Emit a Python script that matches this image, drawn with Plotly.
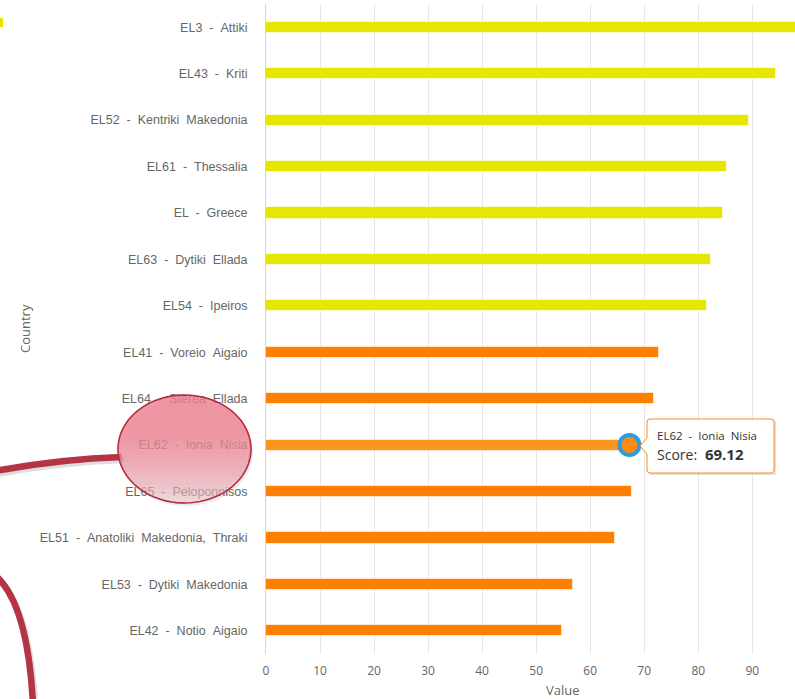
import numpy as np
import plotly.graph_objects as go

# ---------------- data ----------------
categories = [
    "EL3 - Attiki", "EL43 - Kriti", "EL52 - Kentriki Makedonia", "EL61 - Thessalia",
    "EL - Greece", "EL63 - Dytiki Ellada", "EL54 - Ipeiros", "EL41 - Voreio Aigaio",
    "EL64 - Sterea Ellada", "EL62 - Ionia Nisia", "EL65 - Peloponnisos",
    "EL51 - Anatoliki Makedonia, Thraki", "EL53 - Dytiki Makedonia", "EL42 - Notio Aigaio",
]
scores = [99.0, 94.4, 89.4, 85.3, 84.5, 82.3, 81.6, 72.8, 71.9, 69.12, 67.7, 64.6, 56.8, 54.7]
groups = ["high"] * 7 + ["low"] * 7
hovered = "EL62 - Ionia Nisia"
x_ticks = [0, 10, 20, 30, 40, 50, 60, 70, 80, 90]

# ---------------- style ----------------
W, H = 795, 699
ML, MR, MT, MB = 266, 0, 4, 45
PW, PH = W - ML - MR, H - MT - MB
PX_PER_UNIT = 5.403
group_color = {"high": "#e6e600", "low": "#ff8000"}
hover_color = "#ff941c"
colors = [hover_color if c == hovered else group_color[g] for c, g in zip(categories, groups)]
labels = [c.replace(" ", " \u00a0") for c in categories]


def X(px):
    return (px - ML) / PW


def Y(py):
    return (H - MB - py) / PH


def poly_path(pts):
    return " ".join(("M" if k == 0 else "L") + f" {X(a)} {Y(b)}" for k, (a, b) in enumerate(pts)) + " Z"


fig = go.Figure()
fig.add_trace(go.Bar(
    y=categories, x=scores, orientation="h", width=0.24,
    marker=dict(color=colors, line=dict(color="rgba(255,255,255,0.6)", width=1)),
    hoverinfo="skip", showlegend=False,
))

shapes = []
annotations = []

# hover marker at bar end
hv = scores[categories.index(hovered)]
shapes.append(dict(
    type="circle", xref="x", yref="y", xsizemode="pixel", ysizemode="pixel",
    xanchor=hv, yanchor=hovered, x0=-20, x1=0, y0=-10, y1=10,
    line=dict(color="#2e9be0", width=4), fillcolor="#ff8a10", layer="above",
))

# tooltip box
bx0, bx1, by0, by1, r = 647, 774, 419, 473, 3
tip = (640, 446)
path = (f"M {X(bx0+r)} {Y(by0)} L {X(bx1-r)} {Y(by0)} Q {X(bx1)} {Y(by0)} {X(bx1)} {Y(by0+r)} "
        f"L {X(bx1)} {Y(by1-r)} Q {X(bx1)} {Y(by1)} {X(bx1-r)} {Y(by1)} "
        f"L {X(bx0+r)} {Y(by1)} Q {X(bx0)} {Y(by1)} {X(bx0)} {Y(by1-r)} "
        f"L {X(bx0)} {Y(tip[1]+8)} L {X(tip[0])} {Y(tip[1])} L {X(bx0)} {Y(tip[1]-8)} "
        f"L {X(bx0)} {Y(by0+r)} Q {X(bx0)} {Y(by0)} {X(bx0+r)} {Y(by0)} Z")
shadow = (f"M {X(bx0+2)} {Y(by1+1)} L {X(bx1+1)} {Y(by1+1)} L {X(bx1+1)} {Y(by0+2)}")
shapes.append(dict(type="path", xref="paper", yref="paper", path=shadow,
                   line=dict(color="rgba(0,0,0,0.12)", width=2), layer="above"))
shapes.append(dict(type="path", xref="paper", yref="paper", path=path,
                   fillcolor="rgba(255,255,255,0.95)", line=dict(color="#ff8c1a", width=1),
                   layer="above"))
annotations.append(dict(
    x=X(655), y=Y(435), xref="paper", yref="paper", xanchor="left", yanchor="middle",
    text=f"{hovered.replace(' ', ' &nbsp;')}", showarrow=False,
    font=dict(family="Open Sans", size=11.5, color="#333333"),
))
annotations.append(dict(
    x=X(655), y=Y(454), xref="paper", yref="paper", xanchor="left", yanchor="middle",
    text=f"<span style='font-size:14px'>Score:</span>&nbsp; <b>{hv:.2f}</b>", showarrow=False,
    font=dict(family="Open Sans", size=15, color="#333333"),
))

# legend fragment at the top-left edge
shapes.append(dict(type="rect", xref="paper", yref="paper", x0=X(-1), x1=X(3), y0=Y(27), y1=Y(18),
                   fillcolor="#e6e600", line=dict(width=0), layer="above"))

# decorative red callout (curves + gradient ellipse)
curve_col = "rgb(180,52,68)"
for dx, dy, col in [(2, 3, "rgba(0,0,0,0.13)"), (0, 0, curve_col)]:
    shapes.append(dict(type="path", xref="paper", yref="paper", layer="above",
                       path=f"M {X(-5+dx)} {Y(471+dy)} Q {X(60+dx)} {Y(459+dy)} {X(122+dx)} {Y(457+dy)}",
                       line=dict(color=col, width=6.5)))
    shapes.append(dict(type="path", xref="paper", yref="paper", layer="above",
                       path=f"M {X(-4+dx)} {Y(576+dy)} Q {X(28+dx)} {Y(605+dy)} {X(33+dx)} {Y(705+dy)}",
                       line=dict(color=col, width=6.5)))

cx, cy, rx, ry = 184.5, 449, 66.5, 54
t = np.linspace(0, 2 * np.pi, 90)
ell_pts = [(cx + rx * np.cos(a), cy + ry * np.sin(a)) for a in t]
# soft shadow
shapes.append(dict(type="path", xref="paper", yref="paper", layer="above",
                   path=poly_path([(a + 2, b + 3) for a, b in ell_pts]),
                   fillcolor="rgba(0,0,0,0.08)", line=dict(width=0)))
# base fill
shapes.append(dict(type="path", xref="paper", yref="paper", layer="above",
                   path=poly_path(ell_pts), fillcolor="rgba(242,212,217,0.55)", line=dict(width=0)))
# cumulative top-down layers -> vertical gradient without seams
for yb in np.linspace(cy - 0.25 * ry, cy + ry, 16):
    ys = np.linspace(cy - ry, yb, 30)
    hw = rx * np.sqrt(np.clip(1 - ((ys - cy) / ry) ** 2, 0, 1))
    pts = [(cx + w, yy) for w, yy in zip(hw, ys)] + [(cx - w, yy) for w, yy in zip(hw[::-1], ys[::-1])]
    shapes.append(dict(type="path", xref="paper", yref="paper", layer="above",
                       path=poly_path(pts), fillcolor="rgba(228,105,120,0.055)", line=dict(width=0)))
shapes.append(dict(type="path", xref="paper", yref="paper", path=poly_path(ell_pts), layer="above",
                   line=dict(color="rgb(178,45,62)", width=1.6)))

# axis titles
annotations.append(dict(x=X(563), y=Y(690), xref="paper", yref="paper", text="Value",
                        showarrow=False, font=dict(family="Open Sans", size=13, color="#666666"),
                        xanchor="center", yanchor="middle"))
annotations.append(dict(x=X(25), y=Y(329), xref="paper", yref="paper", text="Country",
                        textangle=-90, showarrow=False,
                        font=dict(family="Open Sans", size=13, color="#666666"),
                        xanchor="center", yanchor="middle"))

fig.update_layout(
    width=W, height=H, margin=dict(l=ML, r=MR, t=MT, b=MB, autoexpand=False),
    paper_bgcolor="white", plot_bgcolor="white",
    shapes=shapes, annotations=annotations, showlegend=False,
    bargap=0,
)
fig.update_xaxes(
    range=[0, PW / PX_PER_UNIT], tickvals=x_ticks, ticktext=[str(v) for v in x_ticks],
    showgrid=True, gridcolor="#e6e6e6", gridwidth=1, zeroline=False, showline=False,
    ticks="", tickfont=dict(family="Open Sans", size=12, color="#666666"),
    ticklabelstandoff=8, fixedrange=True,
)
fig.update_yaxes(
    type="category", categoryorder="array", categoryarray=categories,
    autorange="reversed", tickvals=categories, ticktext=labels,
    showgrid=False, zeroline=False, showline=True, linecolor="#ccd6eb", linewidth=1,
    ticks="", ticklabelstandoff=15,
    tickfont=dict(family="Liberation Sans", size=12.5, color="#666666"), fixedrange=True,
)

fig.write_html(
    "out.html",
    config={"displayModeBar": False},
    post_script="document.body.style.margin='0px'; document.body.style.overflow='hidden';",
)
